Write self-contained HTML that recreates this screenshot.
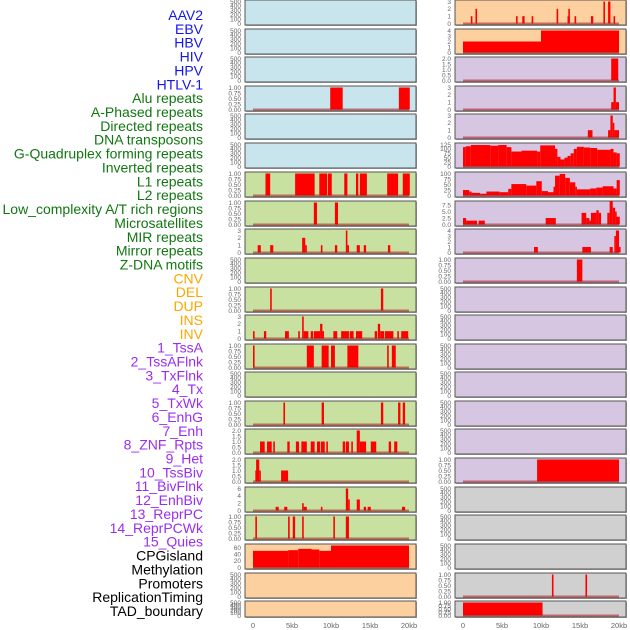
<!DOCTYPE html>
<html><head><meta charset="utf-8"><style>
body{margin:0;background:#fff;width:630px;height:630px;overflow:hidden}
svg{display:block}
</style></head><body>
<svg id="c" width="630" height="630" xmlns="http://www.w3.org/2000/svg"></svg>
<script>
// ---- data (kb start, kb end, value) ----
const labels=["AAV2","EBV","HBV","HIV","HPV","HTLV-1","Alu repeats","A-Phased repeats","Directed repeats","DNA transposons","G-Quadruplex forming repeats","Inverted repeats","L1 repeats","L2 repeats","Low_complexity A/T rich regions","Microsatellites","MIR repeats","Mirror repeats","Z-DNA motifs","CNV","DEL","DUP","INS","INV","1_TssA","2_TssAFlnk","3_TxFlnk","4_Tx","5_TxWk","6_EnhG","7_Enh","8_ZNF_Rpts","9_Het","10_TssBiv","11_BivFlnk","12_EnhBiv","13_ReprPC","14_ReprPCWk","15_Quies","CPGisland","Methylation","Promoters","ReplicationTiming","TAD_boundary"];
const labelGroups=[6,13,5,15,5];
const xTicks=[0,5,10,15,20];
const xTickLabels=["0","5kb","10kb","15kb","20kb"];
const T500=[0,100,200,300,400,500];
const T1=[0,0.25,0.5,0.75,1];
const T1L=["0.00","0.25","0.50","0.75","1.00"];
const T3=[0,1,2,3];
const T2=[0,0.5,1,1.5,2];
const T2L=["0.0","0.5","1.0","1.5","2.0"];

const L4=[[9.9,11.5,1],[18.7,20.1,1]];
const L7=[[1.6,2.2,1],[5.4,7.9,1],[8.5,9.5,1],[9.6,10.1,1],[11.7,12.1,1],[13.2,13.5,1],[13.7,14.6,1],[17.2,18.6,1],[19.2,20.1,1]];
const L8=[[7.8,8.2,1],[10.5,10.9,1]];
const L9=[[0.6,1.0,1],[2.2,2.6,1],[6.3,6.7,2],[6.7,6.9,1],[8.7,8.9,1],[10.5,10.8,1],[11.9,12.1,3],[12.1,12.3,1],[13.3,13.7,1],[14.2,14.5,1],[17.3,17.6,1]];
const L11=[[2.2,2.4,1],[16.4,16.7,1]];
const L12=[[0,0.2,1],[1.4,1.7,1],[4.1,4.6,1],[5.8,6.0,1],[6.3,6.5,3],[6.5,7.1,1],[7.4,7.7,1],[7.8,8.6,1],[8.6,8.9,2],[8.9,9.0,1],[10.3,10.8,1],[11.3,12.3,1],[12.4,12.9,1],[13.2,14.0,1],[15.6,15.9,1],[16.0,16.3,2],[16.3,16.8,1],[16.9,18.0,1],[18.5,18.7,1],[19.0,19.9,1]];
const L13=[[0,0.2,1],[6.9,7.8,1],[8.8,9.7,1],[10.0,10.5,1],[12.1,13.5,1],[17.2,17.4,1],[17.8,18.3,1]];
const L15=[[3.9,4.1,1],[8.8,9.1,1],[16.4,16.7,1],[18.6,18.9,1],[19.2,19.5,1]];
const L16=[[0.9,1.5,1],[1.8,2.4,1],[2.6,2.8,1],[4.4,4.7,1],[5.5,5.9,1],[6.2,6.9,1],[7.4,7.9,1],[8.2,8.6,1],[8.7,9.2,1],[9.4,9.6,1],[11.5,11.8,1],[11.9,12.3,1],[12.6,12.8,1],[13.3,13.7,2],[13.7,14.5,1],[15.1,15.8,1],[17.4,17.7,1],[18.1,18.5,1]];
const L17=[[0.3,0.4,1],[0.4,0.8,2],[0.8,0.9,1],[3.6,4.5,1]];
const L18=[[2.9,3.3,1],[4.0,4.4,1],[6.3,6.5,2],[6.5,6.9,1],[8.7,8.9,1],[11.9,12.2,6],[12.2,12.4,3],[13.3,13.7,3],[14.2,14.5,1],[14.7,15.1,1],[19.1,19.5,1]];
const L19=[[0.3,0.5,1],[4.5,4.7,1],[5.1,5.4,1],[6.3,6.5,1],[10.3,10.5,1],[11.9,12.3,1]];
const L20=[[0,4.5,50],[4.5,5.8,52],[5.8,7.5,56],[7.5,8.5,54],[8.5,10,50],[10,20,66]];

const R1=[[1.0,1.2,1],[1.6,1.8,2],[6.8,7.0,1],[7.6,7.9,1],[8.8,9.0,1],[12.0,12.2,2],[13.4,13.5,1],[13.5,13.7,2],[14.3,14.5,1],[16.4,16.7,1],[18.0,18.2,3],[18.6,18.9,3],[19.3,19.5,1]];
const R2=[[0,10,2],[10,20,4]];
const R3=[[19.0,19.9,2]];
const R4=[[19.0,19.3,1],[19.3,19.6,3],[19.6,20.0,1]];
const R5=[[16.0,16.6,1],[18.6,18.9,1],[18.9,19.2,3],[19.2,19.4,2],[19.4,20.0,1]];
const R6=[[0,0.35,110],[0.35,1,115],[1,3.5,122],[3.5,4.5,118],[4.5,5.6,122],[5.6,6.2,110],[6.2,7.5,85],[7.5,9.5,90],[9.5,9.9,85],[9.9,11.8,120],[11.8,12.1,100],[12.1,12.5,55],[12.5,13,40],[13,13.4,50],[13.4,13.8,60],[13.8,14.2,75],[14.2,14.6,100],[14.6,15.5,112],[15.5,16.3,108],[16.3,17.2,105],[17.2,18.9,95],[18.9,19.3,100],[19.3,19.7,80],[19.7,20.1,75]];
const R7=[[0,0.8,25],[0.8,1.1,18],[1.1,2.2,12],[2.2,3.0,8],[3.0,4.7,18],[4.7,5.8,15],[5.8,6.2,30],[6.2,8.1,52],[8.1,9.4,45],[9.4,10.1,65],[10.1,10.9,20],[10.9,11.6,15],[11.6,11.8,40],[11.8,12.4,90],[12.4,13.1,98],[13.1,13.7,80],[13.7,14.4,60],[14.4,14.6,40],[14.6,16.3,28],[16.3,17.1,32],[17.1,17.9,36],[17.9,19.3,42],[19.3,19.7,32],[19.7,20.1,70]];
const R8=[[0,0.4,2.5],[0.4,1.8,1.5],[2.0,2.8,1.5],[10.6,11.9,2.5],[15.2,15.8,4.5],[15.8,16.2,2.5],[16.2,16.4,1.5],[16.4,17.1,4.5],[17.1,17.4,5.5],[17.4,17.7,4.5],[18.5,18.8,4.5],[18.8,19.2,9],[19.2,19.5,6.5],[19.5,19.6,5],[19.6,20.1,3]];
const R9=[[9.1,9.6,1],[15.3,16.4,1],[18.8,19.2,1],[19.4,19.6,3],[19.6,20.0,4],[20.0,20.1,1]];
const R10=[[14.6,15.3,1]];
const R17=[[9.5,20.0,1]];
const R21=[[11.4,11.6,1],[15.7,15.9,1]];
const R22=[[0,10.2,1]];

// ---- layout ----
const rowTops=[0,29,57,86,114,143,172,201,229,258,287,315,344,372,401,429,458,487,515,544,573,601];
const BL="#c8e4ec",GR="#c8e0a0",OR="#fdd0a0",PU="#d7c6e2",GY="#d0d0d0";
const leftSpec=[
 [BL,T500,null,500,null],[BL,T500,null,500,null],[BL,T500,null,500,null],[BL,T1,T1L,1,L4],[BL,T500,null,500,null],[BL,T500,null,500,null],
 [GR,T1,T1L,1,L7],[GR,T1,T1L,1,L8],[GR,T3,null,3,L9],[GR,T500,null,500,null],[GR,T1,T1L,1,L11],[GR,T3,null,3,L12],[GR,T1,T1L,1,L13],
 [GR,T500,null,500,null],[GR,T1,T1L,1,L15],[GR,T2,T2L,2,L16],[GR,T2,T2L,2,L17],[GR,[0,2,4,6],null,6,L18],[GR,T1,T1L,1,L19],
 [OR,[0,20,40,60],null,66,L20],[OR,T500,null,500,null],[OR,T500,null,500,null]];
const rightSpec=[
 [OR,T3,null,3,R1],[OR,[0,1,2,3,4],null,4,R2],[PU,T2,T2L,2,R3],[PU,T3,null,3,R4],[PU,T3,null,3,R5],
 [PU,[0,25,50,75,100,125],null,125,R6],[PU,[0,25,50,75,100],null,100,R7],[PU,[0,2.5,5,7.5],["0.0","2.5","5.0","7.5"],8.5,R8],
 [PU,[0,1,2,3,4],null,4,R9],[PU,T1,T1L,1,R10],[PU,T500,null,500,null],[PU,T500,null,500,null],[PU,T500,null,500,null],
 [PU,T500,null,500,null],[PU,T500,null,500,null],[PU,T500,null,500,null],[PU,T1,T1L,1,R17],
 [GY,T500,null,500,null],[GY,T500,null,500,null],[GY,T500,null,500,null],[GY,T1,T1L,1,R21],[GY,T1,T1L,1,R22]];

const NS="http://www.w3.org/2000/svg";
const svg=document.getElementById('c');
function mk(tag,attrs,parent){const e=document.createElementNS(NS,tag);for(const k in attrs)e.setAttribute(k,attrs[k]);(parent||svg).appendChild(e);return e;}

// labels
const gColors=["#1515ee","#117711","#ffa500","#9a2ef0","#000000"];
let gi=0,cnt=0;
labels.forEach((t,i)=>{
  while(cnt>=labelGroups[gi]){cnt-=labelGroups[gi];gi++;}
  cnt++;
  const e=mk('text',{x:203,y:15+i*13.86+5,'text-anchor':'end','font-size':14,fill:gColors[gi],'font-family':'Liberation Sans, sans-serif'});
  e.textContent=t;
  
  
});

function panel(spec,i,px,side){
  const [bg,ticks,tl,max,bars]=spec;
  const top=rowTops[i], h=(i===rowTops.length-1)?16:25, w=171;
  const g=mk('g',{});
  
  
  mk('rect',{x:px+1,y:top+1,width:w,height:h,fill:'#aaa'},g);
  mk('rect',{x:px,y:top,width:w,height:h,fill:bg,stroke:'#555','stroke-width':1},g);
  const x0=px+8, kx=7.8;
  const xs=v=>x0+v*kx;
  const yb=top+h-1.5, yt=top+1.5;
  const ys=v=>yb-(v/max)*(yb-yt);
  ticks.forEach((t,j)=>{
    const e=mk('text',{x:px-4,y:ys(t)+2.3,'text-anchor':'end','font-size':6.5,fill:'#666','font-family':'Liberation Sans, sans-serif'},g);
    e.textContent=tl?tl[j]:String(t);
    
    
  });
  if(bars){
    bars.forEach(b=>{
      const xa=xs(b[0]), xb=Math.max(xs(b[1]),xa+1.6);
      const r=mk('rect',{x:xa,y:ys(b[2]),width:xb-xa,height:yb-ys(b[2]),fill:'#ff0000'},g);
      
      
    });
    const ln=mk('line',{x1:xs(0),x2:xs(20),y1:yb,y2:yb,stroke:'rgba(170,20,20,0.55)','stroke-width':2},g);
    
    
  }
}
leftSpec.forEach((s,i)=>panel(s,i,245,'left'));
rightSpec.forEach((s,i)=>panel(s,i,455,'right'));

// x axes
[245,455].forEach((px,k)=>{
  xTicks.forEach((t,j)=>{
    const e=mk('text',{x:px+8+t*7.8,y:628,'text-anchor':'middle','font-size':7.5,fill:'#666','font-family':'Liberation Sans, sans-serif'});
    e.textContent=xTickLabels[j];
    
    
  });
});
</script>
</body></html>
